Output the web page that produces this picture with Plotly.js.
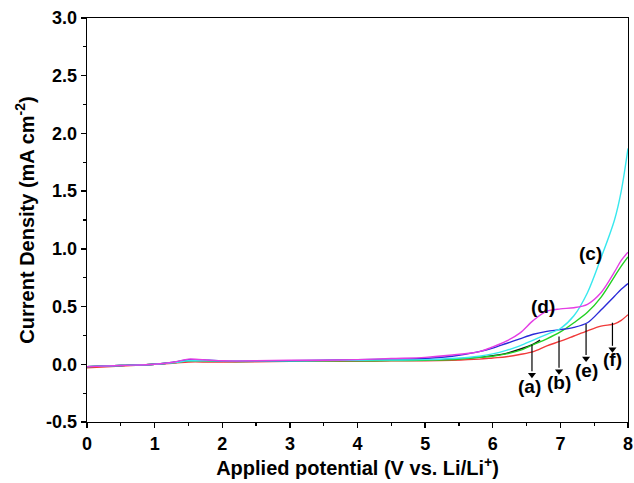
<!DOCTYPE html>
<html>
<head>
<meta charset="utf-8">
<script src="https://cdn.plot.ly/plotly-3.0.1.min.js"></script>
<style>html,body{margin:0;padding:0;background:#fff;}#chart{width:634px;height:483px;}</style>
</head>
<body>
<div id="chart"></div>
<script>
// Applied potential (V vs. Li/Li+)
const potential = [0, 0.5, 1.0, 1.3, 1.5, 1.8, 2.0, 2.5, 3.0, 3.5, 4.0, 4.5, 5.0, 5.4, 5.8, 6.0, 6.2, 6.4, 6.6, 6.8, 7.0, 7.2, 7.4, 7.6, 7.8, 7.9, 8.0];
const potentialA = [0, 0.5, 1.0, 1.3, 1.5, 1.8, 2.0, 2.5, 3.0, 3.5, 4.0, 4.5, 5.0, 5.4, 5.8, 6.0, 6.2, 6.4, 6.6, 6.7];

// Current density (mA cm-2)
const curveA = [-0.02, -0.01, 0.0, 0.015, 0.03, 0.03, 0.025, 0.025, 0.03, 0.03, 0.03, 0.035, 0.035, 0.045, 0.06, 0.075, 0.095, 0.13, 0.175, 0.21];
const curveB = [-0.02, -0.01, 0.0, 0.015, 0.03, 0.028, 0.025, 0.025, 0.028, 0.03, 0.03, 0.032, 0.035, 0.04, 0.06, 0.07, 0.09, 0.12, 0.17, 0.22, 0.28, 0.36, 0.45, 0.58, 0.76, 0.85, 0.93];
const curveC = [-0.02, -0.01, 0.0, 0.015, 0.03, 0.03, 0.03, 0.03, 0.03, 0.032, 0.035, 0.037, 0.04, 0.05, 0.07, 0.09, 0.12, 0.16, 0.21, 0.26, 0.31, 0.42, 0.62, 0.92, 1.25, 1.5, 1.87];
const curveD = [-0.02, -0.01, 0.0, 0.02, 0.045, 0.035, 0.03, 0.03, 0.035, 0.035, 0.04, 0.05, 0.06, 0.08, 0.11, 0.15, 0.2, 0.27, 0.38, 0.46, 0.48, 0.49, 0.52, 0.62, 0.8, 0.9, 0.97];
const curveE = [-0.02, -0.01, 0.0, 0.02, 0.04, 0.035, 0.03, 0.03, 0.03, 0.035, 0.04, 0.045, 0.05, 0.07, 0.11, 0.14, 0.18, 0.22, 0.26, 0.285, 0.30, 0.32, 0.36, 0.47, 0.59, 0.65, 0.70];
const curveF = [-0.03, -0.015, 0.0, 0.01, 0.02, 0.02, 0.02, 0.022, 0.025, 0.027, 0.028, 0.03, 0.03, 0.035, 0.045, 0.055, 0.065, 0.085, 0.11, 0.16, 0.20, 0.245, 0.29, 0.33, 0.35, 0.38, 0.43];

// Tick labels
const xTickVals = [0, 1, 2, 3, 4, 5, 6, 7, 8];
const xTickText = ['0', '1', '2', '3', '4', '5', '6', '7', '8'];
const yTickVals = [-0.5, 0.0, 0.5, 1.0, 1.5, 2.0, 2.5, 3.0];
const yTickText = ['-0.5', '0.0', '0.5', '1.0', '1.5', '2.0', '2.5', '3.0'];

// Curve labels
const labels = ['(a)', '(b)', '(c)', '(d)', '(e)', '(f)'];
const labelX = [6.55, 6.98, 7.44, 6.74, 7.38, 7.77];
const labelY = [-0.19, -0.16, 0.96, 0.5, -0.05, 0.04];
// arrows: tail on curve, head above label
const arrowX = [6.58, 6.98, 7.38, 7.77];
const arrowTailY = [0.17, 0.24, 0.35, 0.36];
const arrowHeadY = [-0.09, -0.06, 0.05, 0.13];

const series = [
  {x: potentialA, y: curveA, color: '#111111'},
  {x: potential, y: curveF, color: '#f03a3a'},
  {x: potential, y: curveB, color: '#22d022'},
  {x: potential, y: curveE, color: '#2a2ad8'},
  {x: potential, y: curveC, color: '#38e8ee'},
  {x: potential, y: curveD, color: '#e43ee4'}
];
const traces = series.map(s => ({
  x: s.x, y: s.y, type: 'scatter', mode: 'lines',
  line: {color: s.color, width: 1.4, shape: 'spline', smoothing: 0.9},
  showlegend: false, hoverinfo: 'skip'
}));

// arrow shafts
const shaftX = [], shaftY = [];
arrowX.forEach((x, i) => { shaftX.push(x, x, null); shaftY.push(arrowTailY[i], arrowHeadY[i] + 0.03, null); });
traces.push({x: shaftX, y: shaftY, type: 'scatter', mode: 'lines',
  line: {color: '#000', width: 1.2}, showlegend: false, hoverinfo: 'skip'});
// arrow heads
traces.push({x: arrowX, y: arrowHeadY, type: 'scatter', mode: 'markers',
  marker: {symbol: 'triangle-down', size: 7, color: '#000'}, showlegend: false, hoverinfo: 'skip'});

const fam = 'Liberation Sans, Arial, sans-serif';
const annotations = labels.map((t, i) => ({
  x: labelX[i], y: labelY[i], xref: 'x', yref: 'y', text: '<b>' + t + '</b>',
  showarrow: false, font: {family: fam, size: 19, color: '#000'}
}));

const bold = arr => arr.map(t => '<b>' + t + '</b>');
const tickfont = {family: fam, size: 18, color: '#000'};

const layout = {
  width: 634, height: 483,
  margin: {l: 87, r: 6, t: 18, b: 61},
  paper_bgcolor: '#fff', plot_bgcolor: '#fff',
  font: {family: fam, size: 18, color: '#000'},
  xaxis: {
    range: [0, 8], tickmode: 'array', tickvals: xTickVals, ticktext: bold(xTickText),
    showgrid: false, zeroline: false,
    showline: true, linecolor: '#000', linewidth: 1.3, mirror: true,
    ticks: 'outside', ticklen: 5, tickwidth: 1.3, tickcolor: '#000',
    minor: {dtick: 0.5, tick0: 0, ticks: 'outside', ticklen: 3, tickwidth: 1.2, tickcolor: '#000'},
    tickfont: tickfont,
    title: {text: '<b>Applied potential (V vs. Li/Li<sup>+</sup>)</b>', font: {family: fam, size: 20, color: '#000'}, standoff: 4}
  },
  yaxis: {
    range: [-0.5, 3.0], tickmode: 'array', tickvals: yTickVals, ticktext: bold(yTickText),
    showgrid: false, zeroline: false,
    showline: true, linecolor: '#000', linewidth: 1.3, mirror: true,
    ticks: 'outside', ticklen: 5, tickwidth: 1.3, tickcolor: '#000',
    minor: {dtick: 0.25, tick0: 0, ticks: 'outside', ticklen: 3, tickwidth: 1.2, tickcolor: '#000'},
    tickfont: tickfont,
    title: {text: '<b>Current Density (mA cm<sup>-2</sup>)</b>', font: {family: fam, size: 20, color: '#000'}, standoff: 6}
  },
  annotations: annotations
};

Plotly.newPlot('chart', traces, layout, {displayModeBar: false, staticPlot: true});
</script>
</body>
</html>
